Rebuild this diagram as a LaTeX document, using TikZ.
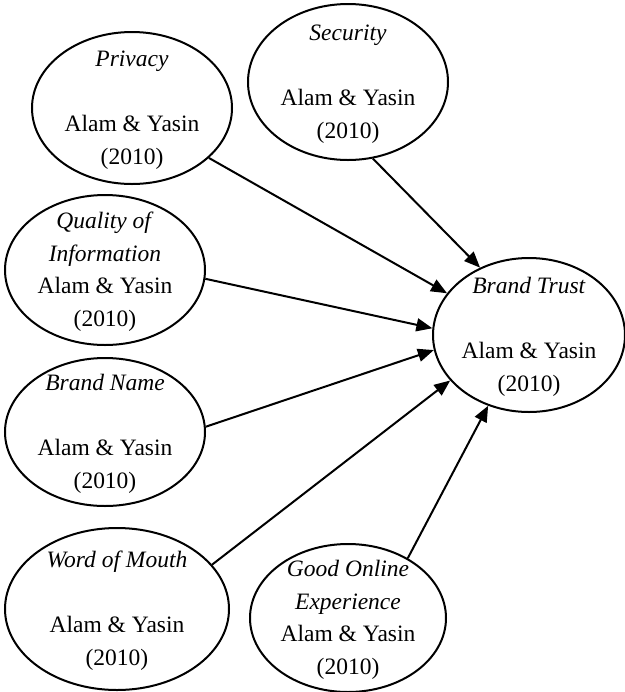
\documentclass[tikz,border=0pt]{standalone}
\usepackage{fontspec}
\setmainfont{Liberation Serif}
\usetikzlibrary{arrows.meta,shapes}

% text block that does not stretch the ellipse
\newcommand{\cbox}[1]{\smash{\raisebox{-3.5pt}{\begin{tabular}{@{}c@{}}#1\end{tabular}}}}

\begin{document}
\begin{tikzpicture}[x=0.5pt,y=-0.5pt,line width=1pt,
                    >={Triangle[length=8pt,width=6.5pt]},
                    font=\fontsize{11.75}{16.2}\selectfont]
  \tikzset{construct/.style={draw,ellipse,inner sep=0pt,line width=1pt,
                             minimum width=100pt,minimum height=76pt}}
  \useasboundingbox (0,0) rectangle (625,692);

  \node[construct] (priv) at (132,108) {\cbox{\textit{Privacy}\\ \\ Alam \& Yasin\\ (2010)}};
  \node[construct,minimum height=78pt] (sec) at (348,82) {\cbox{\textit{Security}\\ \\ Alam \& Yasin\\ (2010)}};
  \node[construct,minimum height=75pt] (qual) at (105,270) {\cbox{\textit{Quality of}\\ \textit{Information}\\ Alam \& Yasin\\ (2010)}};
  \node[construct,minimum height=74pt] (bname) at (105,432) {\cbox{\textit{Brand Name}\\ \\ Alam \& Yasin\\ (2010)}};
  \node[construct,minimum width=112pt,minimum height=81pt] (wom) at (117,609) {\cbox{\textit{Word of Mouth}\\ \\ Alam \& Yasin\\ (2010)}};
  \node[construct,minimum width=98pt,minimum height=74pt] (goe) at (348,618) {\cbox{\textit{Good Online}\\ \textit{Experience}\\ Alam \& Yasin\\ (2010)}};
  \node[construct,minimum width=96pt,minimum height=77pt] (bt) at (529,335) {\cbox{\textit{Brand Trust}\\ \\ Alam \& Yasin\\ (2010)}};

  \draw[->] (priv.-33) -- (bt.153);
  \draw[->] (sec.-72) -- (bt.126);
  \draw[->] (qual.-5) -- (bt.176);
  \draw[->] (bname.3) -- (bt.189);
  \draw[->] (wom.25) -- (bt.210);
  \draw[->] (goe.45) -- (bt.240);
\end{tikzpicture}
\end{document}
